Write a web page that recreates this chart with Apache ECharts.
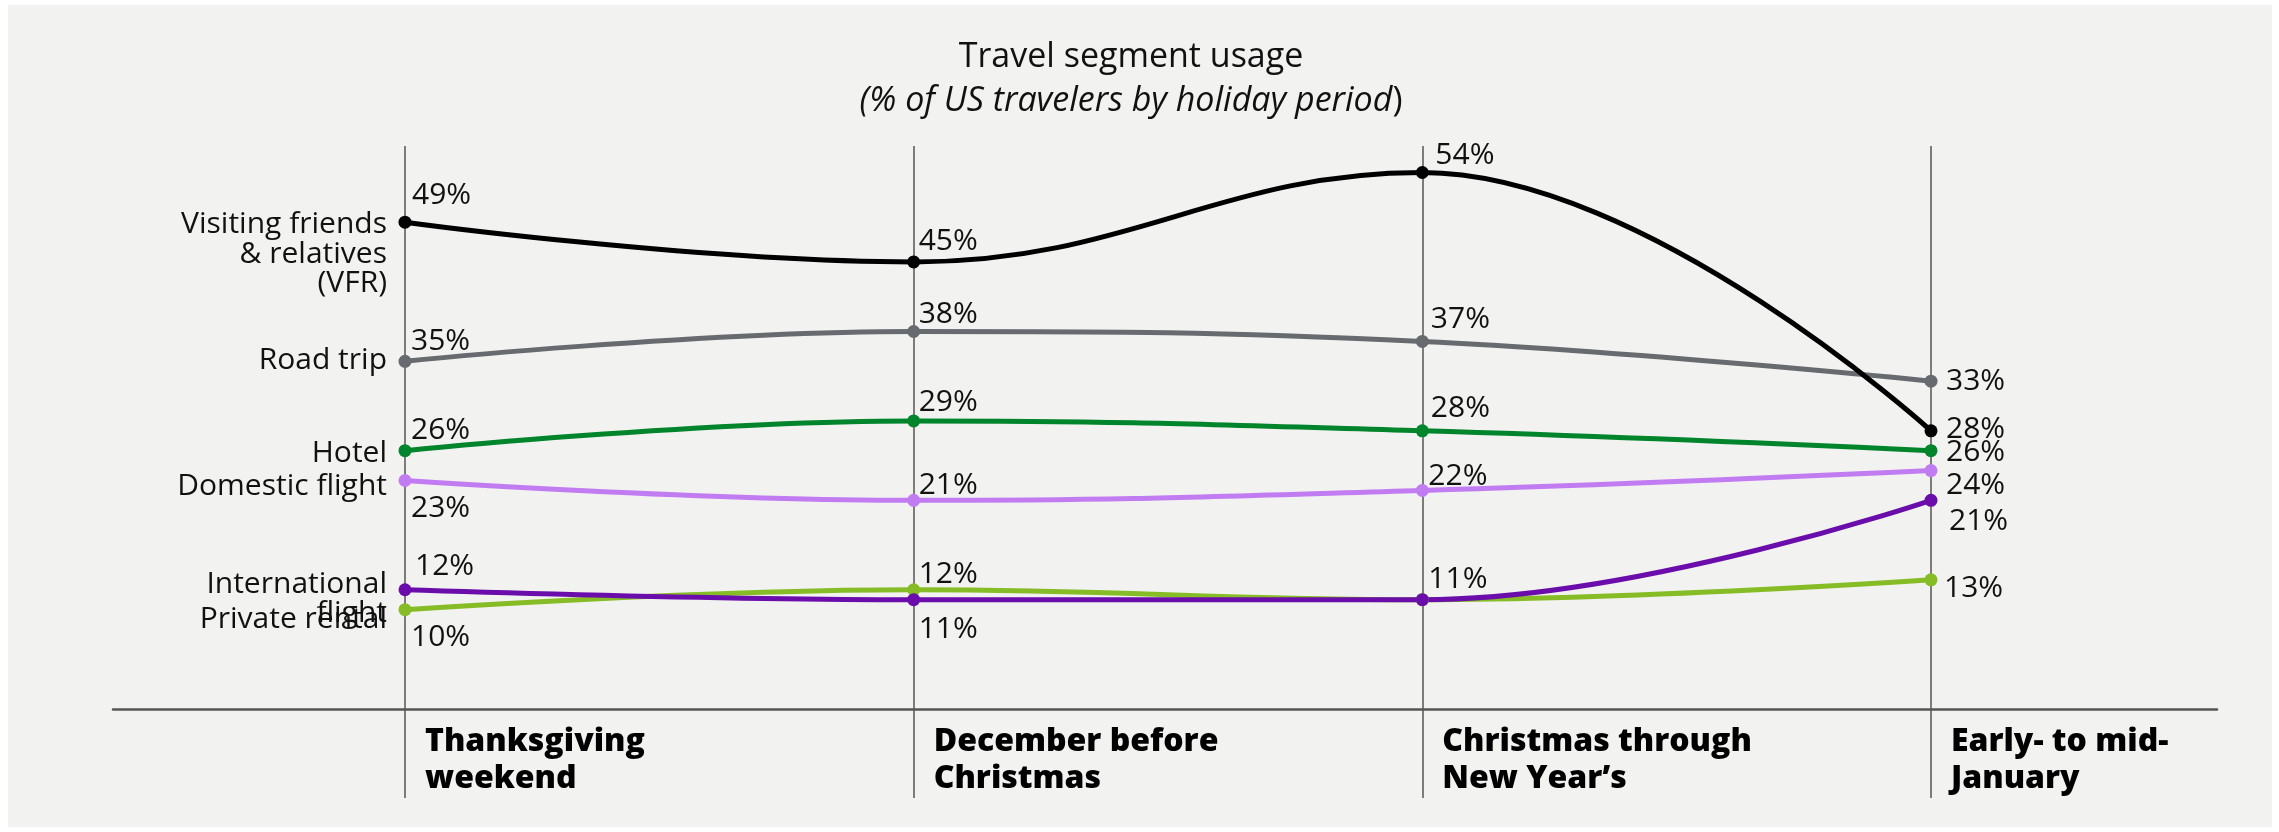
<!DOCTYPE html>
<html>
<head>
<meta charset="utf-8">
<script src="https://cdn.jsdelivr.net/npm/echarts@6/dist/echarts.min.js"></script>
<style>
  html, body { margin: 0; padding: 0; background: #ffffff; }
  #panel { position: absolute; left: 8px; top: 5px; width: 2264px; height: 822px; background: #f2f2f0; }
  #chart { position: absolute; left: 0; top: 0; width: 2279px; height: 832px; }
</style>
</head>
<body>
<div id="panel"></div>
<div id="chart"></div>
<script>
// Holiday periods (x categories)
const periods = ['Thanksgiving\nweekend', 'December before\nChristmas', 'Christmas through\nNew Year\u2019s', 'Early- to mid-\nJanuary'];

// Share of US travelers (%) per travel segment and period
const vfr = [49, 45, 54, 28];
const roadTrip = [35, 38, 37, 33];
const hotel = [26, 29, 28, 26];
const domesticFlight = [23, 21, 22, 24];
const internationalFlight = [12, 11, 11, 21];
const privateRental = [10, 12, 11, 13];

// Segment names shown at the start of each line
const segmentNames = {
  vfr: 'Visiting friends\n& relatives\n(VFR)',
  roadTrip: 'Road trip',
  hotel: 'Hotel',
  domesticFlight: 'Domestic flight',
  internationalFlight: 'International\nflight',
  privateRental: 'Private rental'
};

const FONT = '"Open Sans", "Noto Sans", sans-serif';
const TEXT = '#111111';

// Value-label placement per point: [dx from dot to text start, dy], null = no label
const labelPlacement = {
  vfr:                 [[7, -26.5], [5, -20], [13, -17], [15, -1.7]],
  roadTrip:            [[6, -20], [5, -17.3], [8.5, -22], [15, 0.4]],
  hotel:               [[6, -20], [5, -18], [8.5, -22], [15, 2]],
  domesticFlight:      [[6, 28], [5, -14.7], [6, -14.3], [15, 14.7]],
  internationalFlight: [[10, -23], [5, 29.5], [6, -20], [18, 21]],
  privateRental:       [[6, 27.5], [5, -15.5], null, [13, 8.7]]
};
// Vertical shift of the segment name relative to its first point
const nameShift = { vfr: 32, roadTrip: -1, hotel: 3, domesticFlight: 6, internationalFlight: 9, privateRental: 9.5 };

// Drawing order: last one ends up on top
const segments = [
  { key: 'privateRental', values: privateRental, color: '#86bc25' },
  { key: 'internationalFlight', values: internationalFlight, color: '#6a0dab' },
  { key: 'domesticFlight', values: domesticFlight, color: '#c27cf2' },
  { key: 'hotel', values: hotel, color: '#00852c' },
  { key: 'roadTrip', values: roadTrip, color: '#676a6f' },
  { key: 'vfr', values: vfr, color: '#000000' }
];

const Y_MIN = -8.96, Y_MAX = 56.67;

const series = segments.map(function (s) {
  const place = labelPlacement[s.key];
  return {
    type: 'line',
    name: segmentNames[s.key],
    xAxisIndex: 0,
    yAxisIndex: 0,
    smooth: 0.42,
    symbol: 'circle',
    symbolSize: 13,
    showSymbol: true,
    clip: false,
    lineStyle: { color: s.color, width: 5 },
    itemStyle: { color: s.color },
    emphasis: { disabled: true },
    label: {
      show: true,
      position: 'inside',
      align: 'left',
      verticalAlign: 'middle',
      formatter: '{c}%',
      fontFamily: FONT,
      fontSize: 30,
      color: TEXT,
      textBorderWidth: 0
    },
    data: s.values.map(function (v, i) {
      const p = place[i];
      return { value: v, label: p ? { show: true, offset: p } : { show: false } };
    }),
    markPoint: {
      symbol: 'circle',
      symbolSize: 0,
      silent: true,
      label: {
        show: true,
        position: 'left',
        distance: 18,
        align: 'right',
        formatter: segmentNames[s.key],
        offset: [0, nameShift[s.key]],
        fontFamily: FONT,
        fontSize: 30,
        lineHeight: 29.5,
        color: TEXT
      },
      data: [{ coord: [0, s.values[0]] }]
    }
  };
});

const chart = echarts.init(document.getElementById('chart'), null, { renderer: 'canvas' });
chart.setOption({
  backgroundColor: 'transparent',
  animation: false,
  title: [
    {
      text: 'Travel segment usage',
      left: 1131, top: 40, padding: 0, textAlign: 'center',
      textStyle: { fontFamily: FONT, fontSize: 34, fontWeight: 'normal', color: TEXT }
    },
    {
      text: '{i|(% of US travelers by holiday period}{n|)}',
      left: 1131, top: 84, padding: 0, textAlign: 'center',
      textStyle: {
        fontFamily: FONT, fontSize: 34, fontWeight: 'normal', color: TEXT,
        rich: {
          i: { fontFamily: FONT, fontSize: 34, fontWeight: 'normal', fontStyle: 'italic', color: TEXT },
          n: { fontFamily: FONT, fontSize: 34, fontWeight: 'normal', color: TEXT }
        }
      }
    }
  ],
  grid: [
    { left: 405, right: 348, top: 146, bottom: 34, outerBoundsMode: 'none', containLabel: false },
    { left: 113, right: 62, top: 146, bottom: 34, outerBoundsMode: 'none', containLabel: false }
  ],
  xAxis: [
    {
      type: 'category',
      gridIndex: 0,
      data: periods,
      boundaryGap: false,
      position: 'bottom',
      // the full-width baseline comes from the second grid; labels sit just under it
      axisLine: { show: false, onZero: false },
      axisTick: { show: false },
      splitLine: { show: true, interval: 0, lineStyle: { color: '#555555', width: 1.5 } },
      axisLabel: {
        interval: 0,
        align: 'left',
        verticalAlign: 'top',
        margin: -75,
        padding: [0, 0, 0, 20],
        fontFamily: FONT,
        fontSize: 32,
        fontWeight: 800,
        lineHeight: 37,
        color: '#000000'
      }
    },
    {
      type: 'value',
      gridIndex: 1,
      min: 0,
      max: 1,
      axisLine: { show: true, onZero: true, lineStyle: { color: '#555555', width: 2.5 } },
      axisTick: { show: false },
      axisLabel: { show: false },
      splitLine: { show: false }
    }
  ],
  yAxis: [
    { type: 'value', gridIndex: 0, min: Y_MIN, max: Y_MAX, show: false },
    { type: 'value', gridIndex: 1, min: Y_MIN, max: Y_MAX, show: false }
  ],
  series: series
});
</script>
</body>
</html>
